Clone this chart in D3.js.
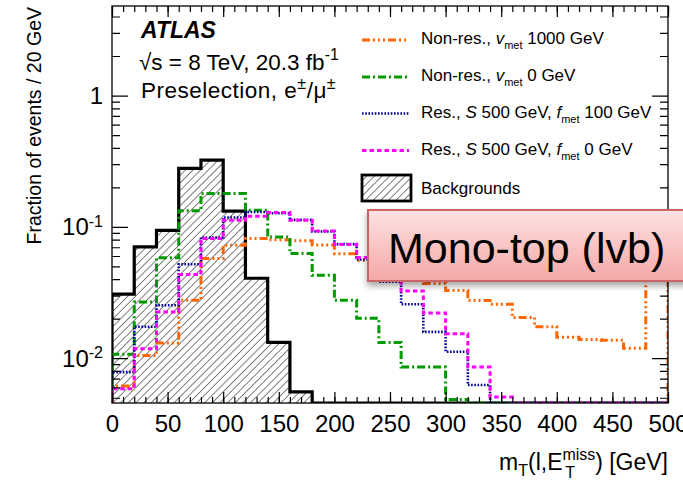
<!DOCTYPE html>
<html>
<head>
<meta charset="utf-8">
<script src="https://cdn.jsdelivr.net/npm/d3@7"></script>
<style>
  body { margin: 0; background: #fff; }
  svg { font-family: "Liberation Sans", Arial, Helvetica, sans-serif; }
</style>
</head>
<body>
<div id="chart"></div>
<script>
// bin edges (GeV), 20 GeV bins
var binEdges = d3.range(0, 501, 20);

// fraction of events per bin
var backgrounds = [0.031, 0.071, 0.095, 0.281, 0.325, 0.133, 0.041, 0.0133, 0.0056, 0, 0, 0, 0,
  0, 0, 0, 0, 0, 0, 0, 0, 0, 0, 0, 0];
var nonRes1000 = [0.0062, 0.0106, 0.0132, 0.0279, 0.058, 0.0732, 0.0822, 0.0806, 0.079, 0.0735, 0.063, 0.056, 0.048,
  0.042, 0.0374, 0.033, 0.0277, 0.026, 0.0206, 0.0175, 0.0146, 0.014, 0.0138, 0.012, 0.07];
var nonRes0 = [0.0108, 0.027, 0.0586, 0.134, 0.181, 0.181, 0.135, 0.0845, 0.0632, 0.0432, 0.0279, 0.0203, 0.0133,
  0.00865, 0.00865, 0.0049, 0, 0, 0, 0, 0, 0, 0, 0, 0];
var res100 = [0.0079, 0.0175, 0.0255, 0.0524, 0.0838, 0.119, 0.131, 0.128, 0.114, 0.093, 0.0745, 0.057, 0.0386,
  0.026, 0.016, 0.0113, 0.0063, 0, 0, 0, 0, 0, 0, 0, 0];
var res0 = [0.0059, 0.0119, 0.0227, 0.0438, 0.0822, 0.1135, 0.1217, 0.13, 0.1135, 0.094, 0.074, 0.059, 0.045,
  0.0328, 0.0223, 0.0155, 0.00865, 0.0051, 0, 0, 0, 0, 0, 0, 0];

var xMajorTicks = d3.range(0, 501, 50);
var xMinorTicks = d3.range(0, 501, 10);
var yMajorTicks = [0.01, 0.1, 1];
var yTickLabels = [["10", "-2"], ["10", "-1"], ["1", ""]];

var svgWidth = 683;
var svgHeight = 483;
var margin = {top: 6, right: 15, bottom: 80, left: 112};
var width = svgWidth - margin.left - margin.right;
var height = svgHeight - margin.top - margin.bottom;

var svg = d3.select("#chart")
  .append("svg")
  .attr("width", svgWidth)
  .attr("height", svgHeight);

var defs = svg.append("defs");

defs.append("clipPath").attr("id", "plotclip")
  .append("rect").attr("width", width).attr("height", height);

var hatch = defs.append("pattern")
  .attr("id", "hatch")
  .attr("patternUnits", "userSpaceOnUse")
  .attr("width", 5.4).attr("height", 5.4)
  .attr("patternTransform", "rotate(45)");
hatch.append("line")
  .attr("x1", 0).attr("y1", 0).attr("x2", 0).attr("y2", 5.4)
  .attr("stroke", "#000").attr("stroke-width", 1);

var grad = defs.append("linearGradient")
  .attr("id", "boxgrad").attr("x1", 0).attr("y1", 0).attr("x2", 0).attr("y2", 1);
grad.append("stop").attr("offset", "0%").attr("stop-color", "#fde2e2");
grad.append("stop").attr("offset", "100%").attr("stop-color", "#f5a7a7");

var shadow = defs.append("filter").attr("id", "shadow")
  .attr("x", "-10%").attr("y", "-20%").attr("width", "130%").attr("height", "160%");
shadow.append("feDropShadow")
  .attr("dx", 0).attr("dy", 4).attr("stdDeviation", 3)
  .attr("flood-color", "#000").attr("flood-opacity", 0.35);

var chartGroup = svg.append("g")
  .attr("transform", `translate(${margin.left}, ${margin.top})`);

// scales
var xScale = d3.scaleLinear().domain([0, 500]).range([0, width]);
var yScale = d3.scaleLog().domain([0.0046, 4.85]).range([height, 0]);
var yMin = yScale.domain()[0];

function stepPoints(vals) {
  var pts = [[xScale(binEdges[0]), height]];
  vals.forEach(function(v, i) {
    var yy = v > yMin ? yScale(v) : height;
    pts.push([xScale(binEdges[i]), yy]);
    pts.push([xScale(binEdges[i + 1]), yy]);
  });
  pts.push([xScale(binEdges[binEdges.length - 1]), height]);
  return pts;
}

var line = d3.line();

var series = [
  {key: "nonRes1000", values: nonRes1000},
  {key: "nonRes0", values: nonRes0},
  {key: "res100", values: res100},
  {key: "res0", values: res0}
];

var styles = {
  nonRes1000: {color: "#ff6600", dash: "8,3,2,3,2,3,2,3", width: 3},
  nonRes0: {color: "#009a00", dash: "8,3,2,3", width: 3},
  res100: {color: "#000099", dash: "1.6,1.6", width: 2.6},
  res0: {color: "#ff00ff", dash: "4.5,3", width: 3}
};

var plot = chartGroup.append("g").attr("clip-path", "url(#plotclip)");

// backgrounds: hatched, thick outline
plot.append("path")
  .attr("d", line(stepPoints(backgrounds)) + "Z")
  .attr("fill", "url(#hatch)")
  .attr("stroke", "none");
plot.append("path")
  .attr("d", line(stepPoints(backgrounds)))
  .attr("fill", "none")
  .attr("stroke", "#000")
  .attr("stroke-width", 3.2);

series.forEach(function(s) {
  var st = styles[s.key];
  plot.append("path")
    .attr("d", line(stepPoints(s.values)))
    .attr("fill", "none")
    .attr("stroke", st.color)
    .attr("stroke-width", st.width)
    .attr("stroke-dasharray", st.dash);
});

// frame
chartGroup.append("rect")
  .attr("width", width).attr("height", height)
  .attr("fill", "none").attr("stroke", "#000").attr("stroke-width", 1.3);

// x ticks (inward, bottom and top)
chartGroup.append("g")
  .attr("transform", `translate(0, ${height})`)
  .call(d3.axisBottom(xScale).tickValues(xMinorTicks).tickSize(-6).tickFormat(""))
  .call(g => g.select(".domain").remove());
chartGroup.append("g")
  .attr("transform", `translate(0, ${height})`)
  .call(d3.axisBottom(xScale).tickValues(xMajorTicks).tickSize(-11).tickPadding(12).tickFormat(d3.format("d")))
  .call(g => g.select(".domain").remove())
  .call(g => g.selectAll("text").attr("font-size", "24px").attr("fill", "#000")
    .attr("font-family", "Liberation Sans, Arial, sans-serif"));
chartGroup.append("g")
  .call(d3.axisTop(xScale).tickValues(xMinorTicks).tickSize(-6).tickFormat(""))
  .call(g => g.select(".domain").remove());
chartGroup.append("g")
  .call(d3.axisTop(xScale).tickValues(xMajorTicks).tickSize(-11).tickFormat(""))
  .call(g => g.select(".domain").remove());
chartGroup.selectAll(".tick line").attr("stroke-width", 1.2);

// y ticks (log, inward on left and right)
var yMinorTicks = [];
[0.001, 0.01, 0.1, 1].forEach(function(dec) {
  for (var m = 2; m <= 9; m++) {
    var v = dec * m;
    if (v >= yScale.domain()[0] && v <= yScale.domain()[1]) yMinorTicks.push(v);
  }
});
var yTicks = chartGroup.append("g");
yTicks.selectAll(".ymaj").data(yMajorTicks).enter().append("path")
  .attr("d", d => `M0,${yScale(d)}h16M${width},${yScale(d)}h-16`)
  .attr("stroke", "#000").attr("stroke-width", 1.2);
yTicks.selectAll(".ymin").data(yMinorTicks).enter().append("path")
  .attr("d", d => `M0,${yScale(d)}h8M${width},${yScale(d)}h-8`)
  .attr("stroke", "#000").attr("stroke-width", 1.2);

var yLab = chartGroup.selectAll(".ylab").data(yMajorTicks).enter().append("text")
  .attr("x", -9)
  .attr("y", d => yScale(d) + 8)
  .attr("text-anchor", "end")
  .attr("font-size", "24px");
yLab.each(function(d, i) {
  var t = d3.select(this);
  t.append("tspan").text(yTickLabels[i][0]);
  if (yTickLabels[i][1]) {
    t.append("tspan").attr("dy", "-0.55em").attr("font-size", "16px").text(yTickLabels[i][1]);
  }
});

// axis titles
svg.append("text")
  .attr("transform", "translate(41, 7) rotate(-90)")
  .attr("text-anchor", "end")
  .attr("font-size", "19.5px")
  .text("Fraction of events / 20 GeV");

var xTitle = svg.append("text")
  .attr("x", margin.left + width)
  .attr("y", 470)
  .attr("text-anchor", "end")
  .attr("font-size", "23px");
xTitle.append("tspan").text("m");
xTitle.append("tspan").attr("font-size", "16px").attr("dy", 6).text("T");
xTitle.append("tspan").attr("dy", -6).text("(l,E");
xTitle.append("tspan").attr("font-size", "16px").attr("dy", -10).text("miss");
xTitle.append("tspan").attr("font-size", "16px").attr("dx", -30).attr("dy", 18).text("T");
xTitle.append("tspan").attr("dx", 20).attr("dy", -8).text(") [GeV]");

// ATLAS labels
svg.append("text")
  .attr("x", 141).attr("y", 38)
  .attr("font-size", "23px").attr("font-weight", "bold").attr("font-style", "italic")
  .text("ATLAS");
var lumi = svg.append("text").attr("x", 139).attr("y", 70).attr("font-size", "22.5px");
lumi.append("tspan").text("\u221As = 8 TeV, 20.3 fb");
lumi.append("tspan").attr("font-size", "16px").attr("dy", -10).text("-1");
var presel = svg.append("text").attr("x", 141).attr("y", 98).attr("font-size", "22.5px")
  .attr("letter-spacing", "0.5px");
presel.append("tspan").text("Preselection, e");
presel.append("tspan").attr("font-size", "16px").attr("dy", -9).text("\u00B1");
presel.append("tspan").attr("dy", 9).text("/\u03BC");
presel.append("tspan").attr("font-size", "16px").attr("dy", -9).text("\u00B1");

// legend
var legendX = 362;
var legendRows = [40, 77, 113.5, 150.5];
var legendText = [
  [["Non-res., ", ""], ["v", "it"], ["met", "sub"], [" 1000 GeV", ""]],
  [["Non-res., ", ""], ["v", "it"], ["met", "sub"], [" 0 GeV", ""]],
  [["Res., ", ""], ["S", "it"], [" 500 GeV, ", ""], ["f", "it"], ["met", "sub"], [" 100 GeV", ""]],
  [["Res., ", ""], ["S", "it"], [" 500 GeV, ", ""], ["f", "it"], ["met", "sub"], [" 0 GeV", ""]]
];
var legend = svg.append("g");
series.forEach(function(s, i) {
  var st = styles[s.key];
  var yy = legendRows[i];
  legend.append("line")
    .attr("x1", legendX).attr("x2", legendX + 47)
    .attr("y1", yy).attr("y2", yy)
    .attr("stroke", st.color).attr("stroke-width", st.width)
    .attr("stroke-dasharray", st.dash);
  var t = legend.append("text").attr("x", 421).attr("y", yy + 4).attr("font-size", "17px");
  var shift = 0;
  legendText[i].forEach(function(p) {
    var ts = t.append("tspan").text(p[0]);
    if (p[1] === "it") ts.attr("font-style", "italic");
    if (p[1] === "sub") {
      ts.attr("font-size", "11px").attr("dy", 5);
      shift = 5;
    } else if (shift) {
      ts.attr("dy", -shift);
      shift = 0;
    }
  });
});
legend.append("rect")
  .attr("x", legendX).attr("y", 175).attr("width", 49).attr("height", 26)
  .attr("fill", "url(#hatch)").attr("stroke", "#000").attr("stroke-width", 2.8);
legend.append("text").attr("x", 421).attr("y", 194).attr("font-size", "17px").text("Backgrounds");

// mono-top tag
var tag = svg.append("g");
tag.append("rect")
  .attr("x", 368).attr("y", 210).attr("width", 340).attr("height", 71)
  .attr("fill", "url(#boxgrad)").attr("stroke", "#cc6666").attr("stroke-width", 2)
  .attr("filter", "url(#shadow)");
tag.append("text")
  .attr("x", 388).attr("y", 263)
  .attr("font-size", "43px")
  .text("Mono-top (lvb)");
</script>
</body>
</html>
